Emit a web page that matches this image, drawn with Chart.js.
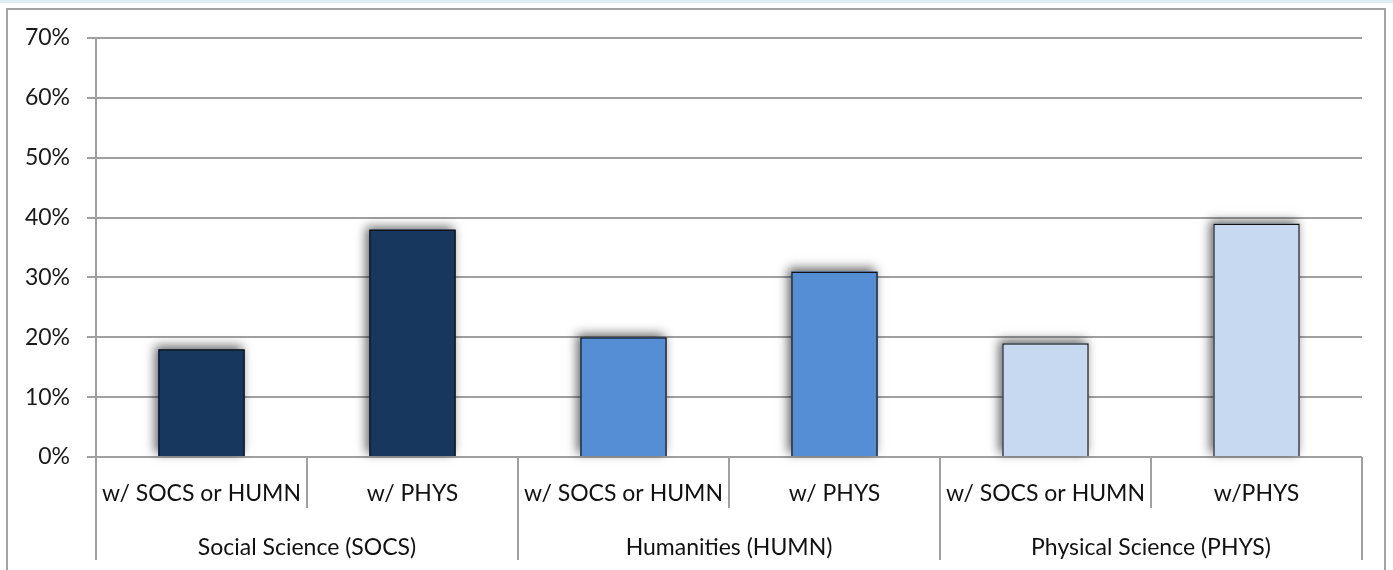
<!DOCTYPE html>
<html>
<head>
<meta charset="utf-8">
<script src="https://cdn.jsdelivr.net/npm/chart.js@4/dist/chart.umd.min.js"></script>
<style>
  html, body { margin: 0; padding: 0; background: #fff; }
  #topband { position: absolute; left: 0; top: 0; width: 1393px; height: 3px; background: #dcedf3; }
  #frame { position: absolute; left: 6px; top: 8px; width: 1380px; height: 580px; border: 2px solid #a3a3a3; box-sizing: border-box; }
  #wrap { position: absolute; left: 0; top: 0; width: 1393px; height: 570px; }
</style>
</head>
<body>
<div id="topband"></div>
<div id="frame"></div>
<div id="wrap"><canvas id="chart" width="1393" height="570"></canvas></div>
<script>
// data
const subLabels = ["w/ SOCS or HUMN", "w/ PHYS", "w/ SOCS or HUMN", "w/ PHYS", "w/ SOCS or HUMN", "w/PHYS"];
const groupLabels = ["Social Science (SOCS)", "Humanities (HUMN)", "Physical Science (PHYS)"];
const values = [0.18, 0.38, 0.20, 0.31, 0.19, 0.39];
const barColors = ["#17375e", "#17375e", "#558ed5", "#558ed5", "#c6d9f1", "#c6d9f1"];
const yTicks = [0, 0.1, 0.2, 0.3, 0.4, 0.5, 0.6, 0.7];

const FONT = "Lato, 'Liberation Sans', sans-serif";
const FSIZE = 23;
const GRID = "#a0a0a0";

// excel-ish soft shadow behind the bars (bar element clips its own drawing, so paint it first)
const shadowPlugin = {
    id: "barShadow",
    beforeDatasetsDraw(chart) {
        const ctx = chart.ctx;
        const meta = chart.getDatasetMeta(0);
        ctx.save();
        ctx.shadowColor = "rgba(0,0,0,0.6)";
        ctx.shadowBlur = 10;
        ctx.shadowOffsetX = -3;
        ctx.shadowOffsetY = -3;
        meta.data.forEach((bar, i) => {
            const p = bar.getProps(["x", "y", "base", "width"], true);
            ctx.fillStyle = barColors[i];
            ctx.fillRect(p.x - p.width / 2, p.y, p.width, p.base - p.y);
        });
        ctx.restore();
    }
};

// vertical dividers of the two-level category axis
const dividerPlugin = {
    id: "dividers",
    afterDraw(chart) {
        const x = chart.scales.x;
        const x2 = chart.scales.x2;
        const ctx = chart.ctx;
        const n = subLabels.length;
        const slot = (x.right - x.left) / n;
        ctx.save();
        ctx.strokeStyle = GRID;
        ctx.lineWidth = 2;
        for (let k = 0; k <= n; k++) {
            const px = Math.round(x.left + k * slot);
            const bottom = (k % 2 === 0) ? x2.bottom : x.bottom;
            ctx.beginPath();
            ctx.moveTo(px, x.top);
            ctx.lineTo(px, bottom);
            ctx.stroke();
        }
        ctx.restore();
    }
};

new Chart(document.getElementById("chart"), {
    type: "bar",
    data: {
        labels: subLabels,
        datasets: [{
            data: values,
            backgroundColor: barColors,
            borderColor: "#111",
            borderWidth: 1.5,
            barPercentage: 0.41,
            categoryPercentage: 1
        }]
    },
    options: {
        responsive: false,
        animation: false,
        devicePixelRatio: 1,
        layout: { padding: { left: 0, top: 38, right: 31, bottom: 10 } },
        plugins: {
            legend: { display: false },
            tooltip: { enabled: false }
        },
        scales: {
            y: {
                min: 0,
                max: 0.7,
                afterFit: s => { s.width = 96; },
                afterBuildTicks: s => { s.ticks = yTicks.map(v => ({ value: v })); },
                ticks: {
                    padding: 17,
                    color: "#1a1a1a",
                    font: { family: FONT, size: FSIZE },
                    callback: v => Math.round(v * 100) + "%"
                },
                grid: { color: GRID, lineWidth: 2, tickLength: 9 },
                border: { color: GRID, width: 2 }
            },
            x: {
                weight: 0,
                afterFit: s => { s.height = 51; },
                grid: { display: false },
                border: { display: false },
                ticks: {
                    padding: 15,
                    autoSkip: false,
                    maxRotation: 0,
                    color: "#111",
                    font: { family: FONT, size: FSIZE }
                }
            },
            x2: {
                type: "category",
                position: "bottom",
                labels: groupLabels,
                offset: true,
                weight: 1,
                afterFit: s => { s.height = 52; },
                grid: { display: false },
                border: { display: false },
                ticks: {
                    padding: 18,
                    autoSkip: false,
                    maxRotation: 0,
                    color: "#111",
                    font: { family: FONT, size: FSIZE }
                }
            }
        }
    },
    plugins: [shadowPlugin, dividerPlugin]
});
</script>
</body>
</html>
